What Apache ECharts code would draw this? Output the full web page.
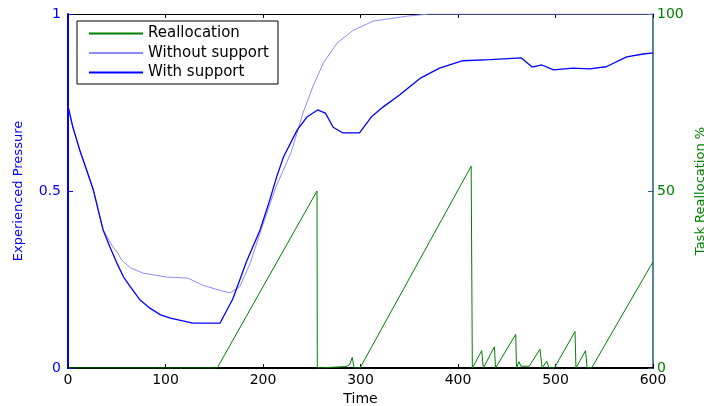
<!DOCTYPE html>
<html>
<head>
<meta charset="utf-8">
<script src="https://cdn.jsdelivr.net/npm/echarts@6/dist/echarts.min.js"></script>
<style>
  html, body { margin: 0; padding: 0; background: #fff; }
  #chart { width: 704px; height: 406px; }
</style>
</head>
<body>
<div id="chart"></div>
<script>
// values
const withTime = [0, 5, 12, 19, 26, 31, 36, 43, 50, 57, 64, 74, 84, 95, 105, 128, 156, 169, 183, 197, 207, 214, 221, 235, 245, 256, 264, 272, 282, 299, 311, 323, 340, 361, 381, 405, 433, 465, 476, 486, 498, 518, 535, 552, 573, 590, 600]
const withValues = [0.74, 0.68, 0.616, 0.56, 0.503, 0.446, 0.39, 0.342, 0.297, 0.257, 0.229, 0.192, 0.169, 0.15, 0.141, 0.127, 0.127, 0.195, 0.3, 0.39, 0.475, 0.54, 0.596, 0.672, 0.709, 0.729, 0.72, 0.68, 0.664, 0.664, 0.709, 0.737, 0.771, 0.818, 0.847, 0.868, 0.871, 0.876, 0.85, 0.856, 0.842, 0.847, 0.845, 0.851, 0.879, 0.887, 0.89]

const withoutTime = [0, 5, 12, 19, 26, 31, 36, 46, 51, 55, 64, 77, 101, 123, 138, 150, 166, 176, 187, 198, 213, 229, 241, 251, 262, 276, 292, 313, 348, 371, 600]
const withoutValues = [0.74, 0.68, 0.616, 0.56, 0.503, 0.446, 0.39, 0.342, 0.325, 0.305, 0.283, 0.268, 0.257, 0.254, 0.234, 0.224, 0.212, 0.229, 0.297, 0.39, 0.51, 0.61, 0.72, 0.794, 0.862, 0.918, 0.953, 0.98, 0.994, 1, 1]

const reallocTime = [0, 153, 255.4, 255.7, 285, 289, 291.5, 293.5, 299.5, 413.5, 414.7, 424.3, 426, 437.3, 438.5, 459.2, 460, 462.6, 464.5, 473, 484.1, 486.3, 491, 493.5, 498.8, 520, 521, 523, 530.8, 532.5, 537, 600]
const reallocValues = [0, 0, 50, 0, 0.4, 1, 3, 0, 0, 57, 0, 4.9, 0, 6, 0, 9.5, 0, 1.8, 0.5, 0.5, 5.3, 0, 1.9, 0, 0, 10.3, 0, 0, 4.9, 0, 0, 30]

const timeTicks = [0, 100, 200, 300, 400, 500, 600]
const pressureTicks = [0, 0.5, 1]
const reallocTicks = [0, 50, 100]

const font = 'DejaVu Sans'

function pairs(xs, ys) {
  return xs.map((x, i) => [x, ys[i]])
}

const chart = echarts.init(document.getElementById('chart'))

chart.setOption({
  animation: false,
  backgroundColor: '#fff',
  grid: { left: 68, right: 51, top: 14, bottom: 38, outerBoundsMode: 'none', containLabel: false },
  legend: {
    orient: 'vertical',
    left: 77,
    top: 21,
    itemWidth: 54,
    itemHeight: 14,
    itemGap: 4.5,
    padding: [5, 9, 4, 11],
    borderColor: '#000',
    borderWidth: 1,
    borderRadius: 0,
    backgroundColor: '#fff',
    itemStyle: { opacity: 0 },
    textStyle: { fontFamily: font, fontSize: 15, color: '#000' },
    data: ['Reallocation', 'Without support', 'With support']
  },
  xAxis: [
    {
      type: 'value',
      min: timeTicks[0],
      max: timeTicks[timeTicks.length - 1],
      interval: 100,
      name: 'Time',
      nameLocation: 'middle',
      nameGap: 23,
      nameTextStyle: { fontFamily: font, fontSize: 14, color: '#000' },
      axisLine: { onZero: false, lineStyle: { color: '#000', width: 2 } },
      axisTick: { inside: true, length: 4, lineStyle: { color: '#000' } },
      axisLabel: { fontFamily: font, fontSize: 14, color: '#000', margin: 5 },
      splitLine: { show: false }
    },
    {
      type: 'value',
      position: 'top',
      min: timeTicks[0],
      max: timeTicks[timeTicks.length - 1],
      interval: 100,
      axisLine: { onZero: false, lineStyle: { color: '#000', width: 1 } },
      axisTick: { inside: true, length: 4, lineStyle: { color: '#000' } },
      axisLabel: { show: false },
      splitLine: { show: false }
    }
  ],
  yAxis: [
    {
      type: 'value',
      min: pressureTicks[0],
      max: pressureTicks[pressureTicks.length - 1],
      interval: 0.5,
      name: 'Experienced Pressure',
      nameLocation: 'middle',
      nameGap: 43,
      nameTextStyle: { fontFamily: font, fontSize: 13, color: '#0000ff' },
      axisLine: { show: true, onZero: false, lineStyle: { color: '#0000ff', width: 2 } },
      axisTick: { show: true, inside: true, length: 5, lineStyle: { color: '#0000ff' } },
      axisLabel: { fontFamily: font, fontSize: 14, color: '#0000ff', margin: 7 },
      splitLine: { show: false }
    },
    {
      type: 'value',
      position: 'right',
      min: reallocTicks[0],
      max: reallocTicks[reallocTicks.length - 1],
      interval: 50,
      name: 'Task Reallocation %',
      nameLocation: 'middle',
      nameRotate: 90,
      nameGap: 40,
      nameTextStyle: { fontFamily: font, fontSize: 13, color: '#008000' },
      axisLine: { show: true, onZero: false, lineStyle: { color: '#1f5f78', width: 1.5 } },
      axisTick: { show: true, inside: true, length: 5, lineStyle: { color: '#1f5f78' } },
      axisLabel: { fontFamily: font, fontSize: 14, color: '#008000', margin: 4 },
      splitLine: { show: false }
    }
  ],
  series: [
    {
      name: 'Reallocation',
      type: 'line',
      yAxisIndex: 1,
      symbol: 'none',
      color: '#008000',
      lineStyle: { color: '#008000', width: 1 },
      data: pairs(reallocTime, reallocValues)
    },
    {
      name: 'Without support',
      type: 'line',
      yAxisIndex: 0,
      symbol: 'none',
      color: '#8c8cff',
      lineStyle: { color: '#8c8cff', width: 1 },
      data: pairs(withoutTime, withoutValues)
    },
    {
      name: 'With support',
      type: 'line',
      yAxisIndex: 0,
      symbol: 'none',
      color: '#0000ff',
      lineStyle: { color: '#0000ff', width: 1.3 },
      data: pairs(withTime, withValues)
    }
  ]
})
</script>
</body>
</html>
